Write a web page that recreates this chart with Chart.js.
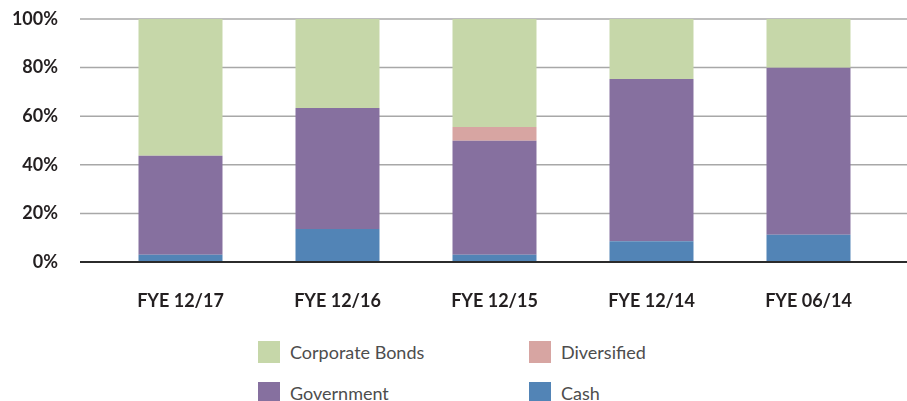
<!DOCTYPE html>
<html>
<head>
<meta charset="utf-8">
<script src="https://cdn.jsdelivr.net/npm/chart.js@4/dist/chart.umd.min.js"></script>
<style>
  body { margin: 0; background: #fff; }
  #wrap { position: relative; width: 907px; height: 401px; overflow: hidden; }
  #box { position: absolute; left: 0; top: 0; width: 907px; height: 320px; }
  #legend { position: absolute; left: 258px; top: 341px; display: grid;
    grid-template-columns: 271px 200px; row-gap: 19px;
    font-family: Lato, "Open Sans", sans-serif; font-size: 18px; color: #4d4d4d; }
  #legend div { display: flex; align-items: center; height: 22px; white-space: nowrap; }
  #legend span { display: inline-block; width: 22px; height: 22px; margin-right: 10px; }
</style>
</head>
<body>
<div id="wrap">
  <div id="box"><canvas id="chart"></canvas></div>
  <div id="legend"></div>
</div>
<script>
// periodos
var periodos = ["FYE 12/17", "FYE 12/16", "FYE 12/15", "FYE 12/14", "FYE 06/14"];
// porcentajes por tipo (de abajo hacia arriba)
var cash = [3, 13.6, 3, 8.5, 11.2];
var government = [40.7, 49.8, 46.9, 66.8, 68.7];
var diversified = [0, 0, 5.7, 0, 0];
var corporate = [56.3, 36.6, 44.4, 24.7, 20.1];
var marcas = [0, 20, 40, 60, 80, 100];

// orden de la leyenda
var ordenLeyenda = ["Corporate Bonds", "Diversified", "Government", "Cash"];

// lineas de fondo que salen mas alla del area
var lineas = {
  id: 'lineas',
  beforeDatasetsDraw: function(chart) {
    var ctx = chart.ctx, y = chart.scales.y;
    ctx.save();
    ctx.strokeStyle = '#a8a8a8';
    ctx.lineWidth = 1.5;
    marcas.forEach(function(v) {
      if (v === 0) return;
      var py = y.getPixelForValue(v);
      ctx.beginPath();
      ctx.moveTo(80, py);
      ctx.lineTo(chart.width, py);
      ctx.stroke();
    });
    ctx.restore();
  },
  afterDatasetsDraw: function(chart) {
    var ctx = chart.ctx, py = chart.scales.y.getPixelForValue(0);
    ctx.save();
    ctx.strokeStyle = '#2b2b2b';
    ctx.lineWidth = 2;
    ctx.beginPath();
    ctx.moveTo(80, py);
    ctx.lineTo(chart.width, py);
    ctx.stroke();
    ctx.restore();
  }
};

var chart = new Chart(document.getElementById("chart"), {
    type: 'bar',
    data: {
      labels: periodos,
      datasets: [
        { label: "Cash", backgroundColor: "#5284b6", data: cash },
        { label: "Government", backgroundColor: "#86709f", data: government },
        { label: "Diversified", backgroundColor: "#d7a5a2", data: diversified },
        { label: "Corporate Bonds", backgroundColor: "#c6d7a9", data: corporate }
      ]
    },
    plugins: [lineas],
    options: {
      responsive: true,
      maintainAspectRatio: false,
      animation: false,
      layout: { padding: { left: 0, right: 20, top: 19, bottom: 0 } },
      datasets: { bar: { barPercentage: 0.535, categoryPercentage: 1 } },
      plugins: {
        legend: { display: false },
        tooltip: { enabled: false }
      },
      scales: {
        x: {
          stacked: true,
          grid: { display: false, drawTicks: false },
          border: { display: false },
          afterFit: function(s) { s.height = 58; },
          ticks: { padding: 28, color: '#231f20',
                   font: { family: 'Lato', size: 18, weight: 'bold' } }
        },
        y: {
          stacked: true,
          min: 0, max: 100,
          grid: { display: false, drawTicks: false },
          border: { display: false },
          afterFit: function(s) {
            s.width = 102;
            s.paddingTop = 0;
            s.paddingBottom = 0;
          },
          afterBuildTicks: function(s) {
            s.ticks = marcas.map(function(v) { return { value: v }; });
          },
          ticks: { padding: 44, color: '#231f20',
                   font: { family: 'Lato', size: 18, weight: 'bold' },
                   callback: function(v) { return v + '%'; } }
        }
      }
    }
});

// leyenda en html
var leyenda = document.getElementById("legend");
ordenLeyenda.forEach(function(nombre) {
  var ds = chart.data.datasets.find(function(d) { return d.label === nombre; });
  var item = document.createElement("div");
  var caja = document.createElement("span");
  caja.style.background = ds.backgroundColor;
  item.appendChild(caja);
  item.appendChild(document.createTextNode(ds.label));
  leyenda.appendChild(item);
});
</script>
</body>
</html>
